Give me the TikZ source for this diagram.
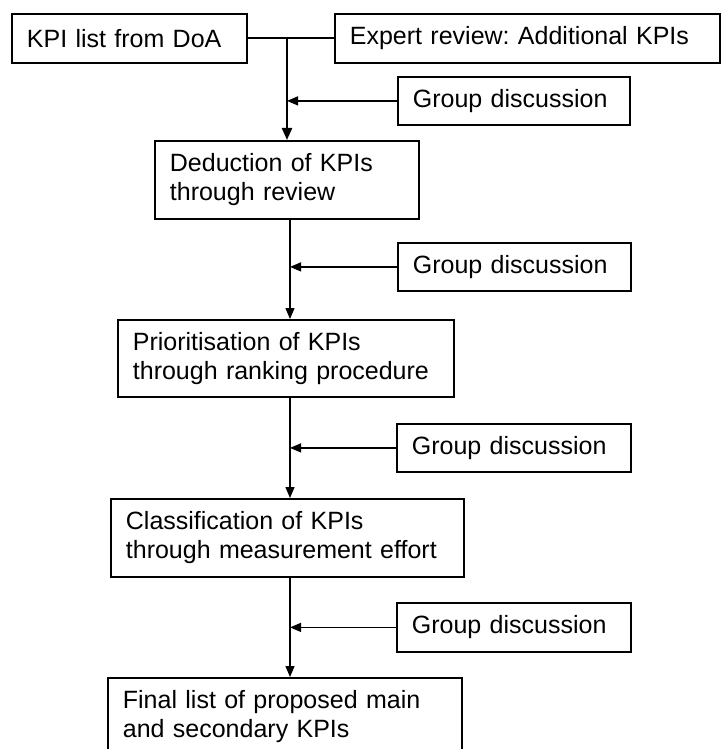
\documentclass[tikz,border=0pt]{standalone}
\usepackage{fontspec}
\setmainfont{Liberation Sans}
\usetikzlibrary{arrows.meta}
\frenchspacing
\begin{document}
\begin{tikzpicture}[x=1pt,y=-1pt,
  box/.style={draw, line width=1.8pt, rectangle, anchor=north west,
    inner xsep=15pt, inner ysep=0pt, align=left,
    font=\fontsize{25pt}{29pt}\selectfont},
  conn/.style={line width=1.3pt},
  boldconn/.style={line width=2.2pt},
  thintip/.style={-{Triangle[length=11pt,width=9pt]}},
  boldtip/.style={-{Triangle[length=12pt,width=10pt]}}
]
\useasboundingbox (0,0) rectangle (722,749);

\node[box, text width=205pt, minimum height=49pt] (kpi) at (11,13) {KPI list from DoA};
\node[box, text width=355pt, minimum height=49pt] (expert) at (334,13) {Expert review: Additional KPIs};
\node[box, text width=202pt, minimum height=48pt] (gd1) at (397,76) {Group discussion};
\node[box, text width=234pt, minimum height=78pt] (ded) at (154,140) {Deduction of KPIs\\through review};
\node[box, text width=203pt, minimum height=48pt] (gd2) at (397,242) {Group discussion};
\node[box, text width=306pt, minimum height=77pt] (prio) at (117,319) {Prioritisation of KPIs\\through ranking procedure};
\node[box, text width=204pt, minimum height=48pt] (gd3) at (396,423) {Group discussion};
\node[box, text width=323pt, minimum height=78pt] (cls) at (110,498) {Classification of KPIs\\through measurement effort};
\node[box, text width=204pt, minimum height=49pt] (gd4) at (396,602) {Group discussion};
\node[box, text width=324pt, minimum height=78pt] (final) at (107,677) {Final list of proposed main\\and secondary KPIs};

\coordinate (xa) at (287,0);
\coordinate (xb) at (290,0);

\draw[boldconn] (kpi.east) -- (expert.west);
\draw[boldconn, boldtip] (kpi.east -| xa) -- (ded.north -| xa);
\draw[conn, thintip] (gd1.west) -- (gd1.west -| xa);

\draw[conn, thintip] (ded.south -| xb) -- (prio.north -| xb);
\draw[conn, thintip] (gd2.west) -- (gd2.west -| xb);

\draw[conn, thintip] (prio.south -| xb) -- (cls.north -| xb);
\draw[conn, thintip] (gd3.west) -- (gd3.west -| xb);

\draw[conn, thintip] (cls.south -| xb) -- (final.north -| xb);
\draw[conn, thintip] (gd4.west) -- (gd4.west -| xb);
\end{tikzpicture}
\end{document}
